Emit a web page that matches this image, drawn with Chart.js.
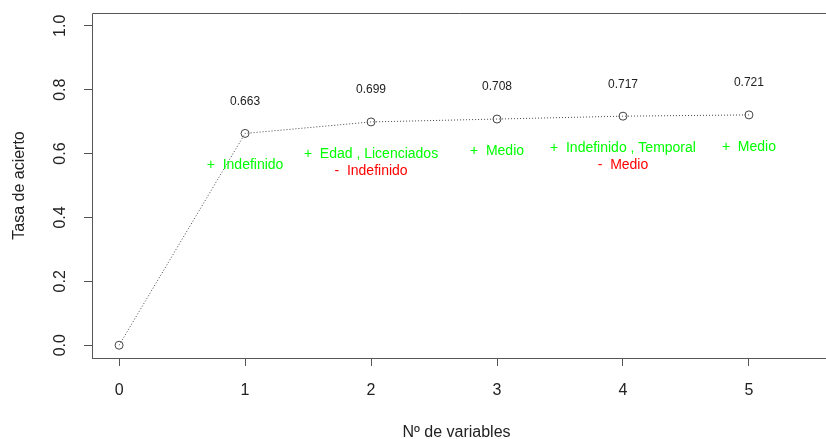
<!DOCTYPE html>
<html>
<head>
<meta charset="utf-8">
<script src="https://cdn.jsdelivr.net/npm/chart.js@4"></script>
<style>
  html, body { margin: 0; padding: 0; background: #fff; }
  #wrap { width: 826px; height: 439px; }
</style>
</head>
<body>
<div id="wrap"><canvas id="myChart" width="826" height="439"></canvas></div>
<script>
// numero de variables en el modelo y tasa de acierto
var nVariables = [0, 1, 2, 3, 4, 5];
var tasaAcierto = [0.000, 0.663, 0.699, 0.708, 0.717, 0.721];
// variables que entran (+) y salen (-) en cada paso
var entran = ['', 'Indefinido', 'Edad , Licenciados', 'Medio', 'Indefinido , Temporal', 'Medio'];
var salen = ['', '', 'Indefinido', '', 'Medio', ''];
var yTicks = [0, 0.2, 0.4, 0.6, 0.8, 1.0];

var fuente = '"Liberation Sans", Arial, Helvetica, sans-serif';
var gris = '#555';

var marco = {
  id: 'marco',
  beforeDatasetsDraw: (chart) => {
    var ctx = chart.ctx;
    var a = chart.chartArea;
    ctx.save();
    ctx.strokeStyle = gris;
    ctx.lineWidth = 1;
    ctx.beginPath();
    ctx.moveTo(a.left + 0.5, a.bottom + 0.5);
    ctx.lineTo(a.left + 0.5, a.top + 0.5);
    ctx.lineTo(chart.width, a.top + 0.5);
    ctx.moveTo(a.left, a.bottom + 0.5);
    ctx.lineTo(chart.width, a.bottom + 0.5);
    ctx.stroke();

    // etiquetas del eje y, giradas como en R
    var y = chart.scales.y;
    ctx.fillStyle = '#222';
    ctx.font = '16px ' + fuente;
    ctx.textAlign = 'center';
    ctx.textBaseline = 'middle';
    yTicks.forEach((t) => {
      ctx.save();
      ctx.translate(61, y.getPixelForValue(t));
      ctx.rotate(-Math.PI / 2);
      ctx.fillText(t.toFixed(1), 0, 0);
      ctx.restore();
    });
    ctx.restore();
  },
  afterDatasetsDraw: (chart) => {
    var ctx = chart.ctx;
    var x = chart.scales.x;
    var y = chart.scales.y;
    ctx.save();
    ctx.textAlign = 'center';
    ctx.textBaseline = 'middle';
    nVariables.forEach((n, i) => {
      if (i === 0) return;
      var px = x.getPixelForValue(n);
      var v = tasaAcierto[i];
      ctx.font = '12px ' + fuente;
      ctx.fillStyle = '#222';
      ctx.fillText(v.toFixed(3), px, y.getPixelForValue(v + 0.1));
      ctx.font = '14px ' + fuente;
      if (entran[i]) {
        ctx.fillStyle = '#00ff00';
        ctx.fillText('+  ' + entran[i], px, y.getPixelForValue(v - 0.1));
      }
      if (salen[i]) {
        ctx.fillStyle = '#ff0000';
        ctx.fillText('-  ' + salen[i], px, y.getPixelForValue(v - 0.153));
      }
    });
    ctx.restore();
  }
};

var chart = new Chart(document.getElementById('myChart').getContext('2d'), {
  type: 'line',
  data: {
    datasets: [{
      data: nVariables.map((n, i) => ({ x: n, y: tasaAcierto[i] })),
      borderColor: '#444',
      borderWidth: 1,
      borderDash: [1, 2],
      pointRadius: 4,
      pointHoverRadius: 4,
      pointBorderColor: '#444',
      pointBorderWidth: 1,
      pointBackgroundColor: 'rgba(0,0,0,0)',
      tension: 0,
      fill: false
    }]
  },
  options: {
    responsive: false,
    animation: false,
    events: [],
    layout: { padding: { top: 13, right: 0, left: 0, bottom: 0 } },
    plugins: {
      legend: { display: false },
      tooltip: { enabled: false }
    },
    scales: {
      x: {
        type: 'linear',
        min: -0.215,
        max: 5.572,
        afterBuildTicks: (s) => { s.ticks = nVariables.map((v) => ({ value: v })); },
        afterFit: (s) => { s.height = 81; },
        grid: { drawOnChartArea: false, drawTicks: true, tickLength: 8, tickColor: gris },
        border: { display: false },
        ticks: {
          color: '#222',
          font: { size: 16, family: fuente },
          padding: 15,
          maxRotation: 0,
          callback: (v) => String(v)
        },
        title: {
          display: true,
          text: 'Nº de variables',
          color: '#222',
          font: { size: 16, family: fuente, lineHeight: 0.8 },
          padding: { top: 0, bottom: 0 }
        }
      },
      y: {
        min: -0.04,
        max: 1.04,
        afterBuildTicks: (s) => { s.ticks = yTicks.map((v) => ({ value: v })); },
        afterFit: (s) => { s.width = 92; },
        grid: { drawOnChartArea: false, drawTicks: true, tickLength: 8, tickColor: gris },
        border: { display: false },
        ticks: { display: false },
        title: {
          display: true,
          text: 'Tasa de acierto',
          color: '#222',
          font: { size: 16, family: fuente },
          padding: { top: 10, bottom: 0 }
        }
      }
    }
  },
  plugins: [marco]
});
</script>
</body>
</html>
